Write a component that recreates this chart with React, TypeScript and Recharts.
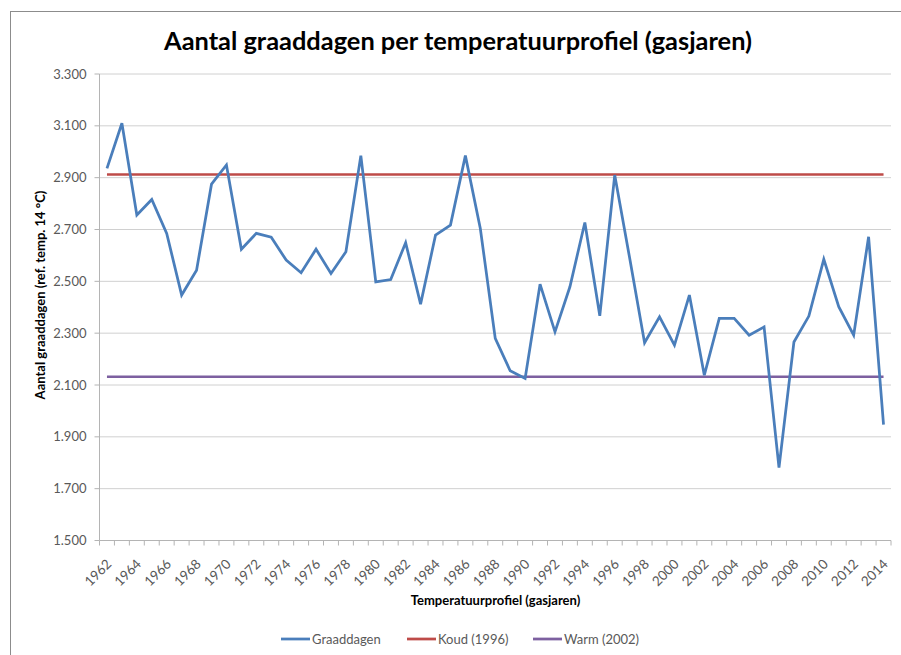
import React from "react";
import { LineChart, Line, XAxis, YAxis, CartesianGrid, ReferenceLine } from "recharts";

const years = [
  1962, 1963, 1964, 1965, 1966, 1967, 1968, 1969, 1970, 1971, 1972, 1973, 1974,
  1975, 1976, 1977, 1978, 1979, 1980, 1981, 1982, 1983, 1984, 1985, 1986, 1987,
  1988, 1989, 1990, 1991, 1992, 1993, 1994, 1995, 1996, 1997, 1998, 1999, 2000,
  2001, 2002, 2003, 2004, 2005, 2006, 2007, 2008, 2009, 2010, 2011, 2012, 2013, 2014,
];

const graaddagen = [
  2936, 3110, 2756, 2816, 2685, 2447, 2543, 2875, 2949, 2624, 2685, 2670, 2582,
  2533, 2624, 2530, 2614, 2985, 2498, 2507, 2649, 2412, 2678, 2717, 2985, 2704,
  2280, 2155, 2125, 2489, 2305, 2479, 2727, 2367, 2910, 2590, 2263, 2363, 2254,
  2447, 2138, 2357, 2357, 2292, 2324, 1781, 2266, 2366, 2585, 2402, 2292, 2672, 1947,
];

const koud = 2912; // Koud (1996)
const warm = 2132; // Warm (2002)

const yTicks = [1500, 1700, 1900, 2100, 2300, 2500, 2700, 2900, 3100, 3300];

const data = years.map((y, i) => ({ year: y, graaddagen: graaddagen[i] }));

const FONT = "Lato, 'Open Sans', sans-serif";
const LEFT = 99.5;
const RIGHT = 891;
const TOP = 74;
const AXIS_Y = 540.5;
const STEP = (RIGHT - LEFT) / years.length;

const fmt = (v: number) => String(v).replace(/\B(?=(\d{3})+$)/g, ".");

const XTick = (props: any) => {
  const { x, index, payload } = props;
  const year = payload.value;
  const lx = x + 2;
  const ly = AXIS_Y + 21;
  return (
    <g>
      <line x1={x - STEP / 2} x2={x - STEP / 2} y1={AXIS_Y} y2={AXIS_Y + 5} stroke="#b4b4b4" />
      {index === years.length - 1 && (
        <line x1={x + STEP / 2} x2={x + STEP / 2} y1={AXIS_Y} y2={AXIS_Y + 5} stroke="#b4b4b4" />
      )}
      {year % 2 === 0 && (
        <text
          x={lx}
          y={ly}
          dy="0.35em"
          textAnchor="end"
          transform={`rotate(-45, ${lx}, ${ly})`}
          fontSize={13.5}
          fontFamily={FONT}
          fill="#595959"
        >
          {year}
        </text>
      )}
    </g>
  );
};

const legendItems = [
  { name: "Graaddagen", color: "#4a7ebb", x: 281 },
  { name: "Koud (1996)", color: "#be4b48", x: 407 },
  { name: "Warm (2002)", color: "#7d60a0", x: 533 },
];

export default function App() {
  return (
    <div style={{ position: "fixed", left: 0, top: 0, width: 901, height: 655, overflow: "hidden", background: "#fff" }}>
      <div
        style={{
          position: "absolute",
          left: 10,
          top: 11,
          width: 900,
          height: 660,
          border: "1px solid #8c8c8c",
          boxSizing: "border-box",
        }}
      />
      <div style={{ position: "absolute", left: 0, top: 0 }}>
        <LineChart
          width={901}
          height={655}
          data={data}
          margin={{ top: TOP, right: 901 - RIGHT, bottom: 655 - AXIS_Y - 60, left: LEFT - 60 }}
        >
          <CartesianGrid vertical={false} stroke="#d0d0d0" />
          <XAxis
            dataKey="year"
            type="category"
            height={60}
            interval={0}
            padding={{ left: STEP / 2, right: STEP / 2 }}
            axisLine={{ stroke: "#b4b4b4" }}
            tickLine={false}
            tick={<XTick />}
          />
          <YAxis
            width={60}
            domain={[1500, 3300]}
            ticks={yTicks}
            interval={0}
            tickFormatter={fmt}
            axisLine={{ stroke: "#b4b4b4" }}
            tickLine={{ stroke: "#b4b4b4" }}
            tickSize={5}
            tickMargin={8}
            tick={{ fontSize: 13, fontFamily: FONT, fill: "#595959" }}
          />
          <ReferenceLine
            segment={[{ x: years[0], y: koud }, { x: years[years.length - 1], y: koud }]}
            stroke="#be4b48"
            strokeWidth={2.5}
          />
          <ReferenceLine
            segment={[{ x: years[0], y: warm }, { x: years[years.length - 1], y: warm }]}
            stroke="#7d60a0"
            strokeWidth={2.5}
          />
          <Line
            type="linear"
            dataKey="graaddagen"
            stroke="#4a7ebb"
            strokeWidth={2.75}
            dot={false}
            isAnimationActive={false}
          />
        </LineChart>
      </div>
      <svg width={901} height={655} style={{ position: "absolute", left: 0, top: 0, pointerEvents: "none" }}>
        <text
          x={458}
          y={42}
          dy="0.35em"
          textAnchor="middle"
          fontSize={24}
          fontWeight="bold"
          fontFamily={FONT}
          fill="#000"
          textLength={588}
          lengthAdjust="spacingAndGlyphs"
        >
          Aantal graaddagen per temperatuurprofiel (gasjaren)
        </text>
        <text
          x={40}
          y={295}
          dy="0.35em"
          textAnchor="middle"
          transform="rotate(-90, 40, 295)"
          fontSize={13}
          fontWeight="bold"
          fontFamily={FONT}
          fill="#000"
        >
          Aantal graaddagen (ref. temp. 14 °C)
        </text>
        <text
          x={495.5}
          y={600}
          dy="0.35em"
          textAnchor="middle"
          fontSize={13}
          fontWeight="bold"
          fontFamily={FONT}
          fill="#000"
        >
          Temperatuurprofiel (gasjaren)
        </text>
        {legendItems.map((it) => (
          <g key={it.name}>
            <line x1={it.x} x2={it.x + 29} y1={639} y2={639} stroke={it.color} strokeWidth={2.75} />
            <text x={it.x + 31} y={639} dy="0.35em" fontSize={13} fontFamily={FONT} fill="#595959">
              {it.name}
            </text>
          </g>
        ))}
      </svg>
    </div>
  );
}
